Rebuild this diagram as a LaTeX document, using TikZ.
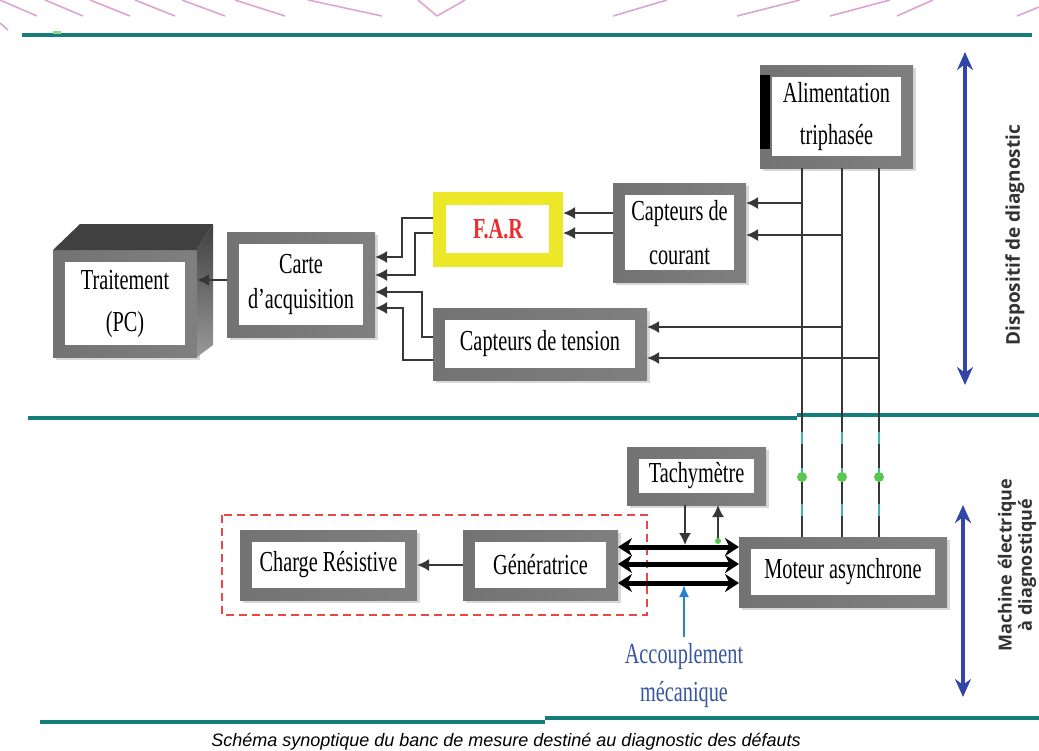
\documentclass[tikz,border=0pt]{standalone}
\usepackage{fontspec}
\setmainfont{Liberation Serif}[FakeStretch=0.7]
\newfontfamily\sidefont{Open Sans}
\newfontfamily\legfont{Liberation Sans}
\usetikzlibrary{arrows.meta,shadows}
\definecolor{bandTeal}{RGB}{22,125,125}
\definecolor{phTeal}{RGB}{70,175,175}
\definecolor{ptVert}{RGB}{90,200,80}
\definecolor{flBlue}{RGB}{50,70,170}
\definecolor{acBlue}{RGB}{40,130,210}
\definecolor{acTxt}{RGB}{55,85,160}
\definecolor{farYel}{RGB}{236,232,40}
\definecolor{farRed}{RGB}{235,45,45}
\definecolor{grpRed}{RGB}{235,70,70}
\definecolor{decoRose}{RGB}{222,165,212}
\definecolor{filG}{RGB}{55,55,55}

\begin{document}
\begin{tikzpicture}[x=0.5pt,y=-0.5pt,font=\fontsize{14.5}{21}\selectfont]
  \tikzset{bloc/.style={left color=black!55,middle color=white,right color=black!50,inner sep=0pt,outer sep=0pt,align=center,
      drop shadow={shadow xshift=1.5pt,shadow yshift=-1.5pt,fill=black!30,opacity=.5},
      path picture={\fill[white] ([shift={(6pt,-6pt)}]path picture bounding box.north west) rectangle ([shift={(-6pt,6pt)}]path picture bounding box.south east);}},
    farbox/.style={fill=farYel,inner sep=0pt,outer sep=0pt,text=farRed,font=\fontsize{14.5}{21}\selectfont\bfseries,
      path picture={\fill[white] ([shift={(6.5pt,-6.5pt)}]path picture bounding box.north west) rectangle ([shift={(-7pt,7pt)}]path picture bounding box.south east);}},
    fil/.style={filG,line width=1pt,-{Latex[length=6pt,width=6pt]}},
    arbre/.style={black,line width=2.5pt,{Stealth[length=7pt,width=9pt]}-{Stealth[length=7pt,width=9pt]}},
    bande/.style={bandTeal,line width=2pt},
    fleche/.style={flBlue,line width=2pt,{Stealth[length=9pt,width=8pt]}-{Stealth[length=9pt,width=8pt]}},
    deco/.style={decoRose,line width=0.8pt}}
  \useasboundingbox (0,0) rectangle (1039,750);
  \clip (0,0) rectangle (1039,750);

  \foreach \a/\b/\c/\d in {0/0/37/16,45/0/83/16,90/0/130/16,135/0/175/16,182/0/225/16,235/0/285/16,308/0/382/16,
      418/0/437/16,437/16/465/0,613/16/667/0,737/16/800/0,830/16/890/0,897/16/933/0,1017/16/1039/7,0/23/8/30}
    \draw[deco] (\a,\b) -- (\c,\d);

  \draw[bande] (22,35) -- (1032,35);
  \fill[ptVert!70] (53,31) rectangle (61,34);
  \draw[bande] (28,418) -- (797,418);
  \draw[bande] (797,415) -- (1039,415);
  \draw[bande] (40,722) -- (545,722);
  \draw[bande] (545,718) -- (1039,718);

  \node[bloc,minimum width=72pt,minimum height=53.5pt] (trait) at (125,303.5) {Traitement\\(PC)};
  \fill[black!75] (trait.north west) -- ++(27,-26) -- (213,224) -- (trait.north east) -- cycle;
  \shade[top color=black!75,bottom color=black!40] (trait.north east) -- (213,224) -- (213,345) -- (trait.south east) -- cycle;
  \node[bloc,minimum width=74pt,minimum height=52.5pt,font=\fontsize{14.5}{17.5}\selectfont] (acq) at (301,284.5) {Carte\\d'acquisition};
  \node[farbox,minimum width=65pt,minimum height=37.5pt] (far) at (498,229.5) {F.A.R};
  \node[bloc,minimum width=66.5pt,minimum height=49.5pt,font=\fontsize{14.5}{22}\selectfont] (cc) at (679.5,232.5) {Capteurs de\\courant};
  \node[bloc,minimum width=76.5pt,minimum height=51.5pt] (alim) at (836.5,116.5) {Alimentation\\triphasée};
  \fill[black] (alim.north west) ++(0,10) rectangle ++(10,74);
  \node[bloc,minimum width=107pt,minimum height=36pt] (ct) at (540,344) {Capteurs de tension};
  \node[bloc,minimum width=69.5pt,minimum height=29pt] (tach) at (696.5,476) {Tachymètre};
  \node[bloc,minimum width=104pt,minimum height=35pt] (mot) at (843,572) {Moteur asynchrone};
  \node[bloc,minimum width=88.5pt,minimum height=35pt] (charge) at (328.5,565) {Charge Résistive};
  \node[bloc,minimum width=77.5pt,minimum height=35pt] (gen) at (540.5,565) {Génératrice};

  \draw[grpRed,line width=1pt,dash pattern=on 4pt off 2.5pt] (222,515) rectangle (647,615);

  \coordinate (mid) at (0,416);
  \coordinate (dots) at (0,477);
  \foreach \px/\nm in {802/p1,842/p2,879/p3} {
    \coordinate (\nm) at (\px,168);
    \draw[filG,line width=1pt] (\nm) -- (\nm |- mid);
    \draw[phTeal,line width=1.3pt] (\nm |- mid) -- (\nm |- mot.north);
    \draw[filG,line width=0.6pt,dash pattern=on 12pt off 6pt,dash phase=4pt] (\nm |- mid) -- (\nm |- mot.north);
    \fill[ptVert] (\nm |- dots) circle (2.5pt);
  }

  \draw[fil] (p1 |- 0,203) -- (cc.east |- 0,203);
  \draw[fil] (p2 |- 0,235) -- (cc.east |- 0,235);
  \draw[fil] (p2 |- 0,327) -- (ct.east |- 0,327);
  \draw[fil] (p3 |- 0,358) -- (ct.east |- 0,358);
  \foreach \y in {213,233}
    \draw[fil] (cc.west |- 0,\y) -- (far.east |- 0,\y);
  \foreach \ys/\xk/\ye/\src in {218/402/257/far,233/415/275/far,337/422/292/ct,360/403/308/ct}
    \draw[fil] (\src.west |- 0,\ys) -| (\xk,\ye) -- (acq.east |- 0,\ye);
  \draw[fil] (acq.west |- 0,280) -- (trait.east |- 0,280);
  \draw[fil] (gen.west) -- (charge.east);

  \foreach \y in {547,564,583}
    \draw[arbre] (gen.east |- 0,\y) -- (mot.west |- 0,\y);
  \draw[fil,line width=0.8pt] (tach.south -| 685,0) -- (685,545);
  \draw[fil,line width=0.8pt] (718,541) -- (tach.south -| 718,0);
  \fill[ptVert] (718,541) circle (1.5pt);

  \node[text=acTxt,align=center,font=\fontsize{14.5}{19}\selectfont] (acc) at (684,676) {Accouplement\\mécanique};
  \draw[acBlue,line width=0.9pt,-{Latex[length=6pt,width=5pt]}] (acc.north) -- (acc.north |- 0,585);

  \draw[fleche] (965,52) -- (965,385);
  \draw[fleche] (963,505) -- (963,697);
  \node[rotate=90,font=\sidefont\bfseries\fontsize{9.5}{10}\selectfont,text=black!80] (dispo) at (1015,235) {Dispositif de diagnostic};
  \node[rotate=90,align=center,inner sep=1pt,font=\sidefont\bfseries\fontsize{9}{9}\selectfont,text=black!80] (mach) at (1017,565) {Machine électrique\\à diagnostiqué};

  \node[anchor=base,font=\legfont\itshape\fontsize{9}{10}\selectfont] (leg) at (506,746) {Schéma synoptique du banc de mesure destiné au diagnostic des défauts};
\end{tikzpicture}
\end{document}
